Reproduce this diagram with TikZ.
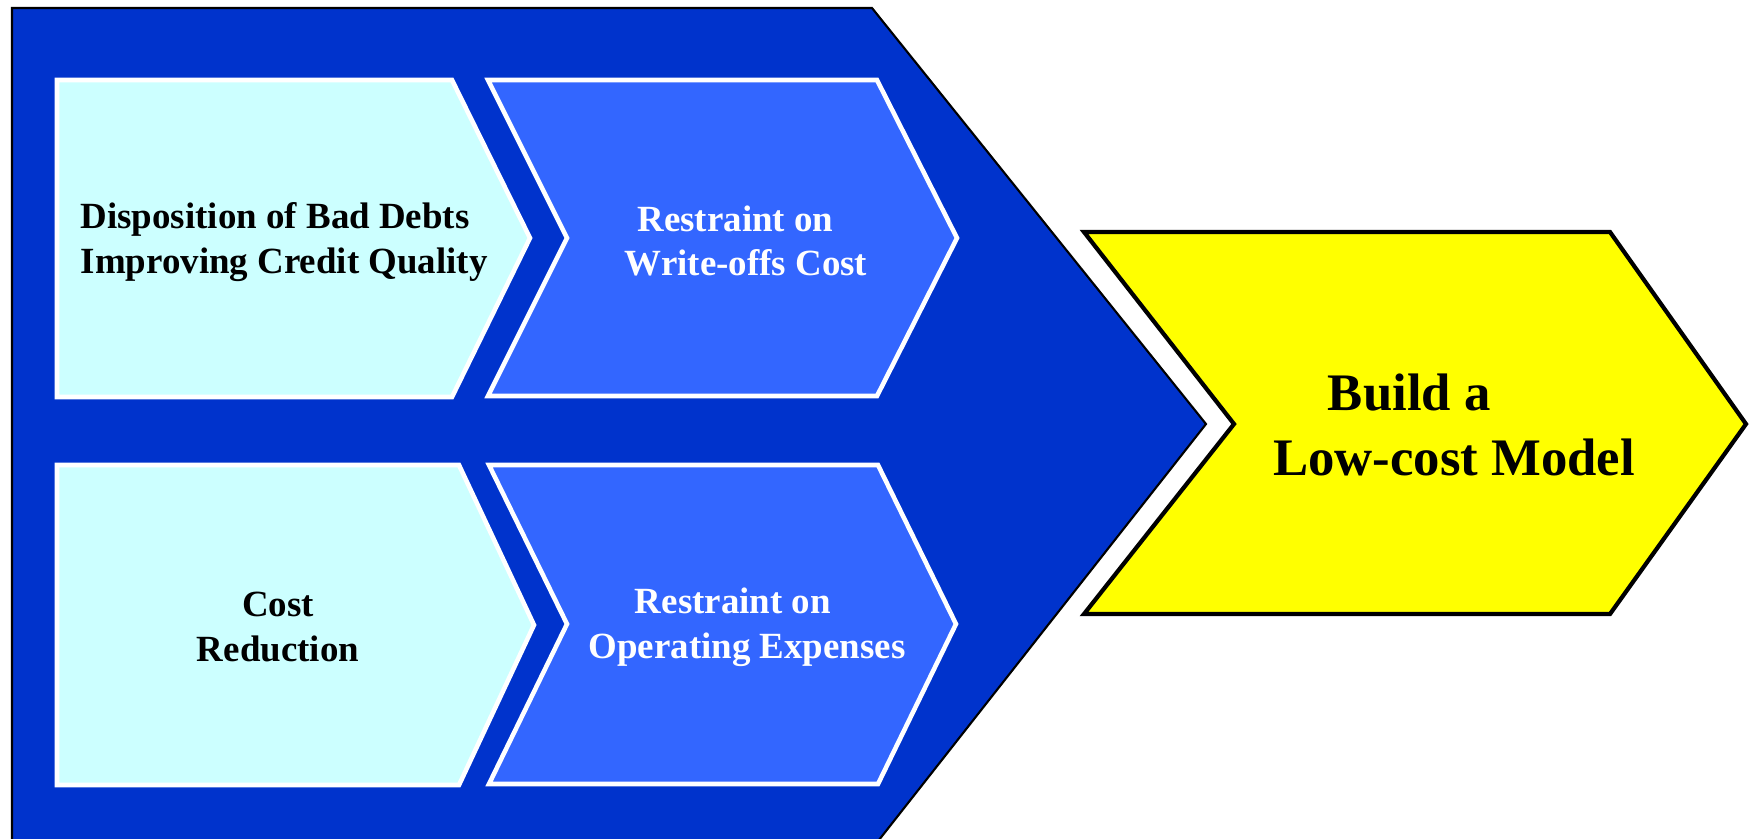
\documentclass[tikz,border=0pt]{standalone}
\usepackage{fontspec}
\setmainfont{Liberation Serif}

\definecolor{deepblue}{HTML}{0033CC}
\definecolor{midblue}{HTML}{3366FF}
\definecolor{palecyan}{HTML}{CCFFFF}
\definecolor{brightyellow}{HTML}{FFFF00}

\begin{document}
\begin{tikzpicture}[x=0.01cm,y=-0.01cm,
  innerchev/.style={draw=white,line width=1.3pt,line join=miter},
  smalltxt/.style={align=center,font=\fontsize{10.5}{12.7}\selectfont\bfseries},
  bigtxt/.style={align=left,font=\fontsize{15}{18.4}\selectfont\bfseries}]

  \useasboundingbox (0,0) rectangle (1751,838);
  \clip (0,0) rectangle (1751,838);

% OUTER CHEVRON
  \fill[deepblue] (12, 845) -- (12, 8) -- (872, 8) -- (1206, 424) -- (875, 845) -- cycle;
  \draw[black, line width=0.6pt] (12, 845) -- (12, 8) -- (872, 8) -- (1206, 424) -- (875, 845);

% Top row
  \draw[innerchev, fill=palecyan] ( 57,  80) -- (452,  80) -- (530, 238) -- (452, 397) -- ( 57, 397) -- cycle;
  \node[smalltxt, align=left, anchor=west, inner sep=0pt, text=black] (dispo) at (80, 242) {Disposition of Bad Debts\\Improving Credit Quality};

  \draw[innerchev, fill=midblue] (488,  80) -- (877,  80) -- (957, 238) -- (877, 396) -- (488, 396) -- (567, 238) -- cycle;
  \node[smalltxt, text=white] (writeoff) at (746, 241) {Restraint on\hspace*{6pt}\\Write-offs Cost};

% Bottom row
  \draw[innerchev, fill=palecyan] ( 57, 465) -- (459, 465) -- (534, 625) -- (459, 785) -- ( 57, 785) -- cycle;
  \node[smalltxt, text=black] (costred) at (278, 627) {Cost\\Reduction};

  \draw[innerchev, fill=midblue] (489, 465) -- (878, 465) -- (956, 624) -- (878, 784) -- (489, 784) -- (567, 624) -- cycle;
  \node[smalltxt, text=white] (opex) at (747, 627) {Restraint on\hspace*{8pt}\\Operating Expenses};

% Goal chevron
  \draw[draw=black, fill=brightyellow, line width=1.2pt, line join=miter] (1084, 232) -- (1610, 232) -- (1746, 424) -- (1610, 614) -- (1084, 614) -- (1234, 424) -- cycle;
  \node[bigtxt] (goal) at (1454, 425) {\hspace*{15.6pt}Build a\\Low-cost Model};

\end{tikzpicture}
\end{document}
